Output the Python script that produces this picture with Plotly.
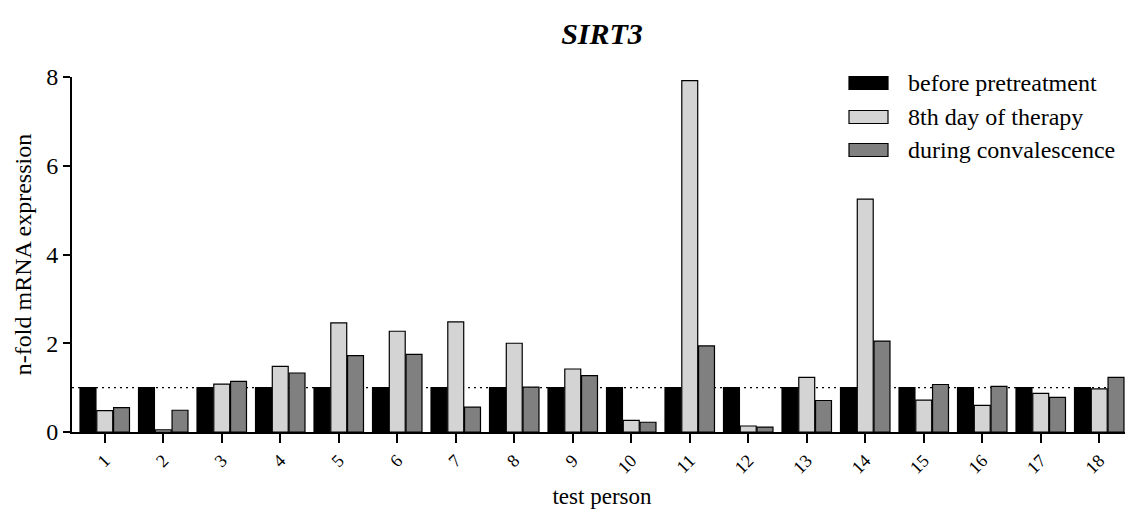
import plotly.graph_objects as go

categories = [str(i) for i in range(1, 19)]
before_pretreatment = [1.0] * 18
day8_therapy = [0.48, 0.05, 1.08, 1.48, 2.46, 2.27, 2.48, 2.00, 1.42, 0.26,
                7.92, 0.135, 1.23, 5.25, 0.72, 0.60, 0.87, 0.97]
convalescence = [0.55, 0.49, 1.14, 1.33, 1.72, 1.75, 0.56, 1.01, 1.27, 0.22,
                 1.94, 0.11, 0.71, 2.05, 1.07, 1.03, 0.78, 1.23]

series_names = ["before pretreatment", "8th day of therapy", "during convalescence"]
series_values = [before_pretreatment, day8_therapy, convalescence]
series_colors = ["#000000", "#d4d4d4", "#808080"]

FONT = "Liberation Serif"
OFF = 8  # default page body margin
W, H = 1133 - OFF, 509 - OFF
ML, MR, MT, MB = 72 - OFF, 1, 77 - OFF, 77
pw = W - ML - MR
ph = H - MT - MB


def px_to_paper_x(px):
    return (px - OFF - ML) / pw


def px_to_paper_y(py):
    return (H - MB - (py - OFF)) / ph


fig = go.Figure()
for name, vals, col in zip(series_names, series_values, series_colors):
    fig.add_trace(go.Bar(
        x=categories, y=vals, name=name,
        marker=dict(color=col, line=dict(color="#000000", width=1.2)),
        showlegend=False,
    ))

# reference line at 1
fig.add_shape(type="line", xref="paper", yref="y", x0=0, x1=1, y0=1, y1=1,
              line=dict(color="#000000", width=1.4, dash="2px,4px"), layer="below")

# custom legend (swatches + labels)
legend_rows_px = [83, 117, 150]
for name, col, cy in zip(series_names, series_colors, legend_rows_px):
    fig.add_shape(type="rect", xref="paper", yref="paper",
                  x0=px_to_paper_x(849), x1=px_to_paper_x(888),
                  y0=px_to_paper_y(cy + 6.5), y1=px_to_paper_y(cy - 6.5),
                  fillcolor=col, line=dict(color="#000000", width=1.2))
    fig.add_annotation(xref="paper", yref="paper", x=px_to_paper_x(906),
                       y=px_to_paper_y(cy), text=name, showarrow=False,
                       xanchor="left", yanchor="middle",
                       font=dict(family=FONT, size=24, color="#000000"))

fig.update_layout(
    width=W, height=H,
    margin=dict(l=ML, r=MR, t=MT, b=MB),
    paper_bgcolor="white", plot_bgcolor="white",
    barmode="group", bargap=0.14, bargroupgap=0.05,
    font=dict(family=FONT, color="#000000"),
    title=dict(text="<b><i>SIRT3</i></b>", xref="paper", x=0.5, xanchor="center",
               y=1 - (33 - OFF) / H, yanchor="middle",
               font=dict(family=FONT, size=30, color="#000000")),
)
fig.update_xaxes(
    range=[-0.56, 17.56], showline=True, linecolor="#000000", linewidth=2,
    ticks="outside", ticklen=9, tickwidth=2, tickcolor="#000000",
    tickangle=-45, tickfont=dict(family=FONT, size=18, color="#000000"),
    title=dict(text="test person", standoff=11,
               font=dict(family=FONT, size=23, color="#000000")),
    showgrid=False, zeroline=False, automargin=False,
)
fig.update_yaxes(
    range=[0, 8], tickvals=[0, 2, 4, 6, 8], showline=True, linecolor="#000000",
    linewidth=2, ticks="outside", ticklen=7, tickwidth=2, tickcolor="#000000",
    tickfont=dict(family=FONT, size=24, color="#000000"),
    title=dict(text="n-fold mRNA expression", standoff=8,
               font=dict(family=FONT, size=24, color="#000000")),
    showgrid=False, zeroline=False, automargin=False,
)

fig.write_html("out.html")
